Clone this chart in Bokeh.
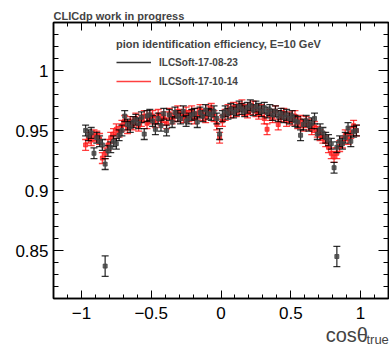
import numpy as np
from bokeh.plotting import figure
from bokeh.models import (ColumnDataSource, FixedTicker, LinearAxis,
                          Legend, LegendItem, Range1d, CustomJSTickFormatter)
from bokeh.embed import file_html
from bokeh.resources import INLINE

# ---------------- data ----------------
cos_theta = [-0.97, -0.95, -0.93, -0.91, -0.89, -0.87, -0.85, -0.83, -0.81, -0.79,
             -0.77, -0.75, -0.73, -0.71, -0.69, -0.67, -0.65, -0.63, -0.61, -0.59,
             -0.57, -0.55, -0.53, -0.51, -0.49, -0.47, -0.45, -0.43, -0.41, -0.39,
             -0.37, -0.35, -0.33, -0.31, -0.29, -0.27, -0.25, -0.23, -0.21, -0.19,
             -0.17, -0.15, -0.13, -0.11, -0.09, -0.07, -0.05, -0.03, -0.01, 0.01,
             0.03, 0.05, 0.07, 0.09, 0.11, 0.13, 0.15, 0.17, 0.19, 0.21,
             0.23, 0.25, 0.27, 0.29, 0.31, 0.33, 0.35, 0.37, 0.39, 0.41,
             0.43, 0.45, 0.47, 0.49, 0.51, 0.53, 0.55, 0.57, 0.59, 0.61,
             0.63, 0.65, 0.67, 0.69, 0.71, 0.73, 0.75, 0.77, 0.79, 0.81,
             0.83, 0.85, 0.87, 0.89, 0.91, 0.93, 0.95, 0.97]

eff_17_08_23 = [0.950, 0.946, 0.948, 0.931, 0.944, 0.941, 0.938, 0.922, 0.933, 0.936,
                0.941, 0.939, 0.946, 0.950, 0.962, 0.955, 0.953, 0.957, 0.959, 0.956,
                0.961, 0.947, 0.962, 0.963, 0.958, 0.951, 0.960, 0.954, 0.964, 0.950,
                0.963, 0.957, 0.965, 0.962, 0.960, 0.966, 0.958, 0.960, 0.963, 0.964,
                0.957, 0.965, 0.962, 0.967, 0.964, 0.963, 0.966, 0.960, 0.947, 0.962,
                0.966, 0.964, 0.968, 0.965, 0.967, 0.970, 0.968, 0.966, 0.969, 0.971,
                0.967, 0.970, 0.968, 0.966, 0.969, 0.965, 0.967, 0.963, 0.966, 0.962,
                0.964, 0.961, 0.963, 0.960, 0.962, 0.958, 0.957, 0.946, 0.955, 0.958,
                0.954, 0.956, 0.960, 0.947, 0.951, 0.948, 0.944, 0.942, 0.939, 0.919,
                0.936, 0.941, 0.939, 0.944, 0.952, 0.941, 0.949, 0.950]

eff_17_10_14 = [0.938, 0.944, 0.942, 0.946, 0.945, 0.943, 0.927, 0.931, 0.938, 0.944,
                0.947, 0.951, 0.949, 0.954, 0.958, 0.952, 0.957, 0.955, 0.960, 0.954,
                0.958, 0.962, 0.956, 0.960, 0.962, 0.957, 0.963, 0.959, 0.961, 0.956,
                0.964, 0.960, 0.962, 0.966, 0.963, 0.961, 0.965, 0.962, 0.966, 0.960,
                0.964, 0.967, 0.963, 0.961, 0.966, 0.968, 0.962, 0.955, 0.944, 0.958,
                0.963, 0.967, 0.965, 0.969, 0.966, 0.968, 0.971, 0.967, 0.965, 0.968,
                0.970, 0.966, 0.964, 0.967, 0.960, 0.951, 0.963, 0.961, 0.966, 0.955,
                0.962, 0.964, 0.958, 0.961, 0.959, 0.962, 0.956, 0.958, 0.954, 0.957,
                0.955, 0.951, 0.953, 0.949, 0.946, 0.944, 0.941, 0.936, 0.931, 0.928,
                0.931, 0.937, 0.940, 0.946, 0.943, 0.948, 0.954, 0.950]

err_17_08_23 = 0.0045
err_17_10_14 = 0.0045

outlier_cos = [-0.83, 0.83]
outlier_eff = [0.837, 0.845]
outlier_err = 0.0085

x_ticks = [-1, -0.5, 0, 0.5, 1]
x_tick_labels = ["\u22121", "\u22120.5", "0", "0.5", "1"]
y_ticks = [0.85, 0.9, 0.95, 1.0]
y_tick_labels = ["0.85", "0.9", "0.95", "1"]
x_title = "cos\u03b8"
x_title_sub = "true"

FONT = "Liberation Sans"
NBSP = "\u00a0"

p = figure(width=389, height=349, output_backend="svg", toolbar_location=None,
           x_range=Range1d(-1.2, 1.2), y_range=Range1d(0.81, 1.04),
           min_border_left=53, min_border_right=1, min_border_top=22,
           min_border_bottom=49)
p.xgrid.visible = False
p.ygrid.visible = False
p.outline_line_color = "black"
p.outline_line_width = 1.5
p.background_fill_color = "white"
p.border_fill_color = "white"

p.title.text = "CLICdp work in progress"
p.title.text_font = FONT
p.title.text_font_size = "11px"
p.title.text_font_style = "bold"
p.title.align = "left"
p.title.standoff = 1

x_minor = [round(v, 2) for v in np.arange(-1.2, 1.2001, 0.1)]
y_minor = [round(v, 3) for v in np.arange(0.81, 1.0401, 0.01)]

blank = CustomJSTickFormatter(code="return ''")


def style_axis(ax, ticks, minor, labels, major_len, minor_len, show_labels=True):
    ax.ticker = FixedTicker(ticks=ticks, minor_ticks=minor)
    ax.major_tick_in = major_len
    ax.major_tick_out = 0
    ax.minor_tick_in = minor_len
    ax.minor_tick_out = 0
    ax.axis_line_width = 1.5
    ax.major_tick_line_width = 1
    ax.minor_tick_line_width = 1
    ax.axis_line_color = "black"
    ax.major_tick_line_color = "black"
    ax.minor_tick_line_color = "black"
    if show_labels:
        ax.major_label_overrides = {t: l for t, l in zip(ticks, labels)}
        ax.major_label_text_font = FONT
        ax.major_label_text_font_size = "17px"
        ax.major_label_text_color = "black"
    else:
        ax.formatter = blank
        ax.major_label_standoff = 0


xax = p.xaxis[0]
style_axis(xax, x_ticks, x_minor, x_tick_labels, 8, 4)
xax.major_label_standoff = 8
# axis title is centred on the frame's right end; pad it so that it ends
# just before the subscript, as in the ROOT original
xax.axis_label = x_title + NBSP * 15
xax.axis_label_text_font = FONT
xax.axis_label_text_font_size = "20px"
xax.axis_label_text_font_style = "normal"
xax.axis_label_standoff = 2
xax.axis_label_align = "end"

# second (tick-less) axis carrying only the subscript of the axis title
sub_ax = LinearAxis(ticker=FixedTicker(ticks=[]), formatter=blank,
                    axis_line_alpha=0, major_tick_in=0, major_tick_out=0,
                    minor_tick_in=0, minor_tick_out=0, major_label_standoff=0)
sub_ax.axis_label = x_title_sub + NBSP * 6
sub_ax.axis_label_text_font = FONT
sub_ax.axis_label_text_font_size = "13px"
sub_ax.axis_label_text_font_style = "normal"
sub_ax.axis_label_standoff = -17
sub_ax.axis_label_align = "end"
p.add_layout(sub_ax, "below")

style_axis(p.yaxis[0], y_ticks, y_minor, y_tick_labels, 10, 5)
p.yaxis[0].major_label_standoff = 5

top_ax = LinearAxis()
style_axis(top_ax, x_ticks, x_minor, x_tick_labels, 8, 4, show_labels=False)
p.add_layout(top_ax, "above")
right_ax = LinearAxis()
style_axis(right_ax, y_ticks, y_minor, y_tick_labels, 10, 5, show_labels=False)
p.add_layout(right_ax, "right")


def draw_series(x, y, err, color, marker_color, alpha):
    y = np.asarray(y, dtype=float)
    src = ColumnDataSource(dict(x=x, y=y, lo=y - err, hi=y + err))
    bars = p.segment(x0="x", y0="lo", x1="x", y1="hi", source=src,
                     line_color=color, line_width=1.3, line_alpha=alpha)
    p.scatter(x="x", y="lo", source=src, marker="dash", size=7,
              line_color=color, line_width=1.3, line_alpha=alpha)
    p.scatter(x="x", y="hi", source=src, marker="dash", size=7,
              line_color=color, line_width=1.3, line_alpha=alpha)
    p.scatter(x="x", y="y", source=src, marker="square", size=4,
              fill_color=marker_color, line_color=marker_color,
              fill_alpha=alpha, line_alpha=alpha)
    return bars


red_bars = draw_series(cos_theta, eff_17_10_14, err_17_10_14, "#ff0000", "#ff2020", 0.75)
black_bars = draw_series(cos_theta, eff_17_08_23, err_17_08_23, "black", "#444444", 0.8)
draw_series(outlier_cos, outlier_eff, outlier_err, "black", "#444444", 0.8)

legend = Legend(items=[LegendItem(label="ILCSoft-17-08-23", renderers=[black_bars]),
                       LegendItem(label="ILCSoft-17-10-14", renderers=[red_bars])],
                title="pion identification efficiency, E=10 GeV",
                location=(58, 205))
legend.title_text_font = FONT
legend.title_text_font_size = "11px"
legend.title_text_font_style = "bold"
legend.title_standoff = 5
legend.label_text_font = FONT
legend.label_text_font_size = "10px"
legend.label_text_font_style = "bold"
legend.glyph_width = 35
legend.glyph_height = 14
legend.label_height = 14
legend.label_standoff = 8
legend.spacing = 5
legend.padding = 5
legend.margin = 0
legend.border_line_alpha = 0
legend.background_fill_alpha = 0
p.add_layout(legend, "center")

open("out.html", "w").write(file_html(p, INLINE))
